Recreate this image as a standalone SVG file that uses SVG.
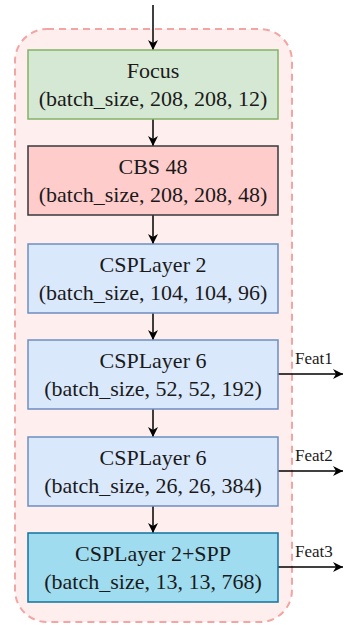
<svg xmlns="http://www.w3.org/2000/svg" width="345" height="625" viewBox="0 0 345 625">
<defs>
<marker id="arr" viewBox="0 0 10 10" refX="10" refY="5" markerWidth="10" markerHeight="10" markerUnits="userSpaceOnUse" orient="auto">
<path d="M0,0 L10,5 L0,10 L3,5 Z" fill="#000"/>
</marker>
<style>
.c{stroke:#000;stroke-width:1.5;fill:none;marker-end:url(#arr)}
.b{stroke-width:1.5}
.t{font-family:"Liberation Serif","Times New Roman",serif;font-size:22px;fill:#1a1a1a;text-anchor:middle}
.f{font-family:"Liberation Serif","Times New Roman",serif;font-size:17px;fill:#1a1a1a}
</style>
</defs>
<rect x="15" y="29" width="277" height="593" rx="32" ry="32" fill="#ffeeee" stroke="#f2a6a3" stroke-width="2" stroke-dasharray="7,5"/>
<g id="connectors">
<line class="c" x1="153" y1="5" x2="153" y2="50"/>
<line class="c" x1="153" y1="119" x2="153" y2="146"/>
<line class="c" x1="153" y1="215" x2="153" y2="244"/>
<line class="c" x1="153" y1="313" x2="153" y2="340"/>
<line class="c" x1="153" y1="409" x2="153" y2="437"/>
<line class="c" x1="153" y1="506" x2="153" y2="533"/>
<line class="c" x1="278" y1="374" x2="343" y2="374"/>
<line class="c" x1="278" y1="471" x2="343" y2="471"/>
<line class="c" x1="278" y1="567" x2="343" y2="567"/>
<text class="f" x="295" y="364">Feat1</text>
<text class="f" x="295" y="461">Feat2</text>
<text class="f" x="295" y="557">Feat3</text>
</g>
<g id="focus">
<rect class="b" x="28" y="50" width="250" height="69" fill="#d5e8d4" stroke="#82b366"/>
<text class="t" x="153" y="78">Focus</text>
<text class="t" x="153" y="106">(batch_size, 208, 208, 12)</text>
</g>
<g id="cbs48">
<rect class="b" x="28" y="146" width="250" height="69" fill="#ffcccc" stroke="#36393d"/>
<text class="t" x="153" y="174">CBS 48</text>
<text class="t" x="153" y="202">(batch_size, 208, 208, 48)</text>
</g>
<g id="csp2">
<rect class="b" x="28" y="244" width="250" height="69" fill="#dae8fc" stroke="#6c8ebf"/>
<text class="t" x="153" y="272">CSPLayer 2</text>
<text class="t" x="153" y="300">(batch_size, 104, 104, 96)</text>
</g>
<g id="csp6a">
<rect class="b" x="28" y="340" width="250" height="69" fill="#dae8fc" stroke="#6c8ebf"/>
<text class="t" x="153" y="368">CSPLayer 6</text>
<text class="t" x="153" y="396">(batch_size, 52, 52, 192)</text>
</g>
<g id="csp6b">
<rect class="b" x="28" y="437" width="250" height="69" fill="#dae8fc" stroke="#6c8ebf"/>
<text class="t" x="153" y="465">CSPLayer 6</text>
<text class="t" x="153" y="493">(batch_size, 26, 26, 384)</text>
</g>
<g id="csp2spp">
<rect class="b" x="28" y="533" width="250" height="69" fill="#a0dcef" stroke="#10739e"/>
<text class="t" x="153" y="561">CSPLayer 2+SPP</text>
<text class="t" x="153" y="589">(batch_size, 13, 13, 768)</text>
</g>
</svg>
